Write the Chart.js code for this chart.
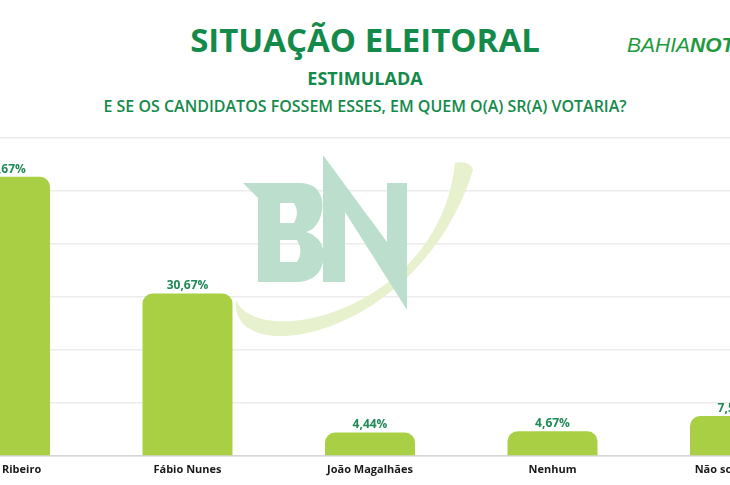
<!DOCTYPE html>
<html lang="pt-BR">
<head>
<meta charset="utf-8">
<title>Situação Eleitoral – Estimulada</title>
<script src="https://cdn.jsdelivr.net/npm/chart.js@4.4.1/dist/chart.umd.min.js"></script>
<style>
  html, body { margin: 0; padding: 0; background: #ffffff; }
  body { width: 730px; height: 485px; position: relative; overflow: hidden; font-family: "Open Sans", sans-serif; }
  #chart { position: absolute; left: -100px; top: 0; }
  .head { position: absolute; left: 0; width: 730px; text-align: center; color: #138a4a; font-weight: 700; white-space: nowrap; }
  #t1 { top: 18px; font-size: 33px; line-height: 44px; }
  #t2 { top: 66px; font-size: 18px; line-height: 24px; }
  #t3 { top: 95px; font-size: 16px; line-height: 22px; font-weight: 600; }
  #brand { position: absolute; left: 627px; top: 31px; font-family: "Liberation Sans", Arial, sans-serif; font-style: italic; font-size: 21px; line-height: 28px; color: #1f9a3e; white-space: nowrap; }
  #brand b { font-weight: 700; }
  #brand span { font-weight: 400; }
</style>
</head>
<body>
<div class="head" id="t1">SITUAÇÃO ELEITORAL</div>
<div class="head" id="t2">ESTIMULADA</div>
<div class="head" id="t3">E SE OS CANDIDATOS FOSSEM ESSES, EM QUEM O(A) SR(A) VOTARIA?</div>
<div id="brand"><span>BAHIA</span><b>NOTÍCIAS</b></div>
<canvas id="chart" width="1000" height="485"></canvas>
<script>
// Intenção de voto estimulada (%)
const candidates = ["Eures Ribeiro", "Fábio Nunes", "João Magalhães", "Nenhum", "Não souberam"];
const votes = [52.67, 30.67, 4.44, 4.67, 7.55];
const yTicks = [0, 10, 20, 30, 40, 50, 60];

const fmt = v => v.toFixed(2).replace(".", ",") + "%";

// BN watermark behind the bars (drawn after the grid)
const watermark = {
  id: "watermark",
  beforeDatasetsDraw(chart) {
    const ctx = chart.ctx;
    const ox = 100; // canvas sits 100px left of the page
    ctx.save();
    ctx.translate(ox, 0);
    // swoosh
    ctx.fillStyle = "#e8f1cd";
    ctx.beginPath();
    ctx.moveTo(236, 300);
    ctx.bezierCurveTo(228, 372, 420, 340, 473, 170);
    ctx.quadraticCurveTo(470, 160, 455, 163);
    ctx.bezierCurveTo(440, 310, 258, 352, 236, 300);
    ctx.closePath();
    ctx.fill();
    // letters
    ctx.fillStyle = "#bcdfcd";
    // B
    ctx.beginPath();
    ctx.moveTo(243, 183);
    ctx.lineTo(300, 183);
    ctx.bezierCurveTo(322, 183, 326, 203, 320, 218);
    ctx.bezierCurveTo(316, 228, 310, 231, 306, 232);
    ctx.bezierCurveTo(320, 236, 326, 248, 323, 262);
    ctx.bezierCurveTo(320, 276, 310, 282, 296, 282);
    ctx.lineTo(258, 282);
    ctx.lineTo(258, 198);
    ctx.closePath();
    // counters
    ctx.moveTo(280, 203);
    ctx.lineTo(280, 223);
    ctx.lineTo(294, 223);
    ctx.quadraticCurveTo(300, 213, 294, 203);
    ctx.closePath();
    ctx.moveTo(280, 240);
    ctx.lineTo(280, 262);
    ctx.lineTo(297, 262);
    ctx.quadraticCurveTo(304, 251, 297, 240);
    ctx.closePath();
    ctx.fill("evenodd");
    // N
    ctx.beginPath();
    ctx.moveTo(323, 155);
    ctx.lineTo(387, 242);
    ctx.lineTo(387, 183);
    ctx.lineTo(407, 183);
    ctx.lineTo(407, 310);
    ctx.lineTo(345, 212);
    ctx.lineTo(345, 282);
    ctx.lineTo(323, 282);
    ctx.closePath();
    ctx.fill();
    ctx.restore();
  }
};

// value labels above each bar
const valueLabels = {
  id: "valueLabels",
  afterDatasetsDraw(chart) {
    const ctx = chart.ctx;
    const meta = chart.getDatasetMeta(0);
    ctx.save();
    ctx.font = "700 12px 'Open Sans', sans-serif";
    ctx.fillStyle = "#1f8a57";
    ctx.textAlign = "center";
    ctx.textBaseline = "alphabetic";
    meta.data.forEach((bar, i) => {
      ctx.fillText(fmt(chart.data.datasets[0].data[i]), bar.x, bar.y - 4);
    });
    ctx.restore();
  }
};

new Chart(document.getElementById("chart"), {
  type: "bar",
  data: {
    labels: candidates,
    datasets: [{
      data: votes,
      backgroundColor: "#a9cf45",
      borderRadius: { topLeft: 10, topRight: 10, bottomLeft: 0, bottomRight: 0 },
      borderSkipped: "bottom",
      categoryPercentage: 1,
      barPercentage: 0.493
    }]
  },
  options: {
    responsive: false,
    animation: false,
    devicePixelRatio: 1,
    layout: { padding: { left: 13.75, right: 73.75, top: 138, bottom: 0 } },
    plugins: { legend: { display: false }, tooltip: { enabled: false } },
    scales: {
      x: {
        grid: { display: false, drawTicks: false },
        border: { display: true, color: "#d6d6d6", width: 1.5 },
        ticks: {
          padding: 7,
          color: "#1a1a1a",
          font: { family: "'Open Sans', sans-serif", size: 11, weight: "700" },
          maxRotation: 0,
          autoSkip: false
        },
        afterFit(scale) { scale.height = 29; }
      },
      y: {
        min: yTicks[0],
        max: yTicks[yTicks.length - 1],
        afterBuildTicks(scale) { scale.ticks = yTicks.map(v => ({ value: v })); },
        ticks: { display: false },
        grid: { color: "#ececec", lineWidth: 1.5, drawTicks: false },
        border: { display: false },
        afterFit(scale) { scale.width = 0; }
      }
    }
  },
  plugins: [watermark, valueLabels]
});
</script>
</body>
</html>
